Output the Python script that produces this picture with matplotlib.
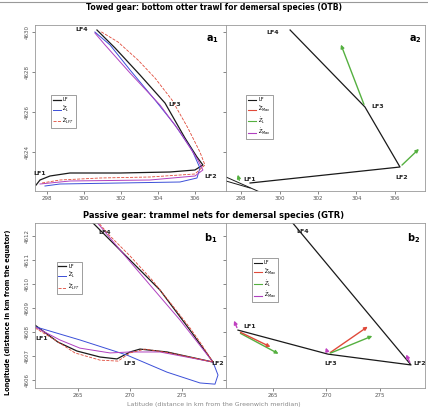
import numpy as np
import matplotlib
matplotlib.use('Agg')
import matplotlib.pyplot as plt

# ---- data ----
# row a : towed gear (OTB)
a1_black_x = [297.41, 297.62, 298.16, 299.24, 301.95, 304.65, 306.0, 306.43, 306.11, 305.46, 304.38, 303.03, 301.68, 300.70]
a1_black_y = [4622.35, 4622.6, 4622.8, 4622.95, 4622.95, 4623.0, 4623.1, 4623.35, 4623.75, 4624.7, 4626.45, 4627.85, 4629.2, 4630.1]
a1_red_x = [297.73, 298.70, 300.86, 303.57, 306.0, 306.54, 306.27, 305.62, 304.76, 303.84, 302.92, 301.84, 300.86]
a1_red_y = [4622.45, 4622.6, 4622.7, 4622.75, 4622.9, 4623.35, 4624.0, 4625.2, 4626.6, 4627.7, 4628.6, 4629.5, 4630.05]
a1_blue_x = [297.89, 298.70, 301.95, 305.19, 306.11, 306.27, 305.84, 304.92, 303.84, 302.49, 301.41, 300.59]
a1_blue_y = [4622.3, 4622.4, 4622.45, 4622.5, 4622.7, 4623.2, 4624.1, 4625.35, 4626.6, 4628.1, 4629.35, 4630.0]
a1_purple_x = [297.62, 299.24, 303.57, 306.0, 306.43, 306.16, 305.19, 304.11, 302.49, 301.14, 300.59]
a1_purple_y = [4622.4, 4622.55, 4622.6, 4622.8, 4623.1, 4623.6, 4625.0, 4626.35, 4627.95, 4629.35, 4629.95]
a1_lab_x = [297.62, 306.86, 304.92, 299.89]
a1_lab_y = [4622.9, 4622.75, 4626.4, 4630.1]

a2_lf_x = [298.47, 306.26, 304.44, 300.55]
a2_lf_y = [4622.45, 4623.25, 4626.25, 4630.10]
a2_extra_x = [[297.22, 299.09], [297.22, 298.47]]
a2_extra_y = [[4622.75, 4621.95], [4622.55, 4622.2]]
a2_green_from_x = [304.44, 306.26, 297.95]
a2_green_from_y = [4626.25, 4623.25, 4622.45]
a2_green_to_x = [303.14, 307.35, 297.79]
a2_green_to_y = [4629.5, 4624.25, 4623.0]
a2_lab_x = [298.47, 306.36, 305.12, 299.66]
a2_lab_y = [4622.6, 4622.7, 4626.25, 4629.95]

# row b : passive gear (GTR)
b1_black_x = [260.87, 263.08, 264.90, 267.12, 268.75, 270.0, 270.96, 273.56, 275.77, 277.98, 275.77, 272.88, 270.0, 267.60, 266.35, 265.96]
b1_black_y = [4608.29, 4607.58, 4607.21, 4606.96, 4606.88, 4607.17, 4607.29, 4607.17, 4606.96, 4606.75, 4608.08, 4609.75, 4611.0, 4612.04, 4612.58, 4612.88]
b1_red_x = [260.87, 262.79, 264.71, 267.12, 268.85, 270.0, 271.44, 273.85, 277.98, 276.92, 275.77, 274.04, 272.12, 270.0, 268.08, 266.92, 266.54]
b1_red_y = [4608.17, 4607.67, 4607.13, 4606.83, 4606.79, 4607.13, 4607.29, 4607.13, 4606.75, 4607.46, 4608.17, 4609.13, 4610.17, 4611.17, 4612.0, 4612.58, 4612.88]
b1_purple_x = [260.87, 263.27, 265.19, 268.08, 270.0, 272.88, 277.98, 274.81, 271.92, 269.04, 266.63, 265.96]
b1_purple_y = [4608.21, 4607.67, 4607.33, 4607.13, 4607.17, 4607.17, 4606.75, 4608.5, 4609.96, 4611.42, 4612.67, 4612.88]
b1_blue_x = [260.67, 265.19, 269.71, 273.56, 276.73, 278.17, 278.46, 277.98]
b1_blue_y = [4608.25, 4607.67, 4607.04, 4606.33, 4605.88, 4605.83, 4606.21, 4606.75]
b1_lab_x = [261.54, 278.46, 270.0, 267.6]
b1_lab_y = [4607.75, 4606.71, 4606.67, 4612.13]

b2_lf_x = [261.73, 270.14, 277.90, 266.21]
b2_lf_y = [4608.08, 4607.08, 4606.63, 4612.88]
b2_arr_from_x = [261.73, 261.73, 261.73, 270.14, 270.14, 270.14, 277.90]
b2_arr_from_y = [4608.0, 4608.04, 4608.08, 4607.08, 4607.08, 4607.08, 4606.63]
b2_arr_to_x = [265.75, 265.0, 261.26, 274.07, 274.53, 269.86, 277.34]
b2_arr_to_y = [4607.04, 4607.33, 4608.58, 4608.29, 4607.88, 4607.46, 4607.17]
b2_arr_col = ['#55b040', '#e04a3a', '#c040c0', '#e04a3a', '#55b040', '#c040c0', '#c040c0']
b2_lab_x = [262.85, 278.74, 270.42, 267.80]
b2_lab_y = [4608.21, 4606.67, 4606.67, 4612.17]

lf_names = ['LF1', 'LF2', 'LF3', 'LF4']
a_xticks = [298, 300, 302, 304, 306]
a_yticks = [4624, 4626, 4628, 4630]
b_xticks = [265, 270, 275]
b_yticks = [4606, 4607, 4608, 4609, 4610, 4611, 4612]

leg3 = ['LF', r'$\hat{Z}_{L}$', r'$\hat{Z}_{LFT}$']
leg4 = ['LF', r'$\hat{Z}_{Max}$', r'$\dot{Z}_{L}$', r'$\dot{Z}_{Max}$']

BLK, RED, BLUE, PURP, GRN = '#1a1a1a', '#e04a3a', '#3b4fd8', '#b040c0', '#55b040'

fig = plt.figure(figsize=(4.28, 4.07), dpi=100)
W, H = 428.0, 407.0

def mkax(l, t, r, b):
  return fig.add_axes([l/W, 1-b/H, (r-l)/W, (b-t)/H])

def style(ax, xt, yt, xl, yl, showy):
  ax.set_xlim(xl); ax.set_ylim(yl)
  ax.set_xticks(xt); ax.set_yticks(yt)
  ax.tick_params(labelsize=4, length=2, width=0.5, colors='#555555', pad=1.5)
  for lab in ax.get_yticklabels():
    lab.set_rotation(90); lab.set_va('center')
  if not showy: ax.set_yticklabels([])
  for s in ax.spines.values():
    s.set_color('#999999'); s.set_linewidth(0.6)

def labels(ax, xs, ys):
  for n, x, y in zip(lf_names, xs, ys):
    ax.text(x, y, n, fontsize=4.5, fontweight='bold', ha='center', va='center', color='#222222')

def arrows(ax, fx, fy, tx, ty, cols):
  for x0, y0, x1, y1, c in zip(fx, fy, tx, ty, cols):
    ax.annotate('', xy=(x1, y1), xytext=(x0, y0),
      arrowprops=dict(arrowstyle='-|>', color=c, lw=1.0, mutation_scale=5))

def leg(ax, handles, names, anchor):
  lg = ax.legend(handles, names, loc='upper left', bbox_to_anchor=anchor, fontsize=3.5,
    frameon=True, fancybox=False, edgecolor='#555555', handlelength=1.6,
    borderpad=0.4, labelspacing=0.25, handletextpad=0.4)
  lg.get_frame().set_linewidth(0.5)

a_xlim1, a_xlim2, a_ylim = (297.35, 307.68), (297.22, 307.56), (4622.05, 4630.35)
b_xlim1, b_xlim2, b_ylim = (260.87, 279.23), (260.61, 279.21), (4605.67, 4612.54)

# a1
ax = mkax(35, 25, 226, 191)
hb, = ax.plot(a1_black_x, a1_black_y, color=BLK, lw=0.9)
hbl, = ax.plot(a1_blue_x, a1_blue_y, color=BLUE, lw=0.7)
ax.plot(a1_purple_x, a1_purple_y, color=PURP, lw=0.7)
hr, = ax.plot(a1_red_x, a1_red_y, color=RED, lw=0.6, ls='--')
labels(ax, a1_lab_x, a1_lab_y)
style(ax, a_xticks, a_yticks, a_xlim1, a_ylim, True)
leg(ax, [hb, hbl, hr], leg3, (0.07, 0.59))
ax.text(0.93, 0.95, r'$\mathbf{a}_\mathbf{1}$', transform=ax.transAxes, fontsize=7, ha='center', va='top')

# a2
ax = mkax(226, 25, 425, 191)
ax.plot(a2_lf_x, a2_lf_y, color=BLK, lw=0.9)
for ex, ey in zip(a2_extra_x, a2_extra_y):
  ax.plot(ex, ey, color=BLK, lw=0.7)
arrows(ax, a2_green_from_x, a2_green_from_y, a2_green_to_x, a2_green_to_y, [GRN]*3)
labels(ax, a2_lab_x, a2_lab_y)
style(ax, a_xticks, a_yticks, a_xlim2, a_ylim, False)
h4 = [plt.Line2D([], [], color=c, lw=0.8) for c in [BLK, RED, GRN, PURP]]
leg(ax, h4, leg4, (0.09, 0.59))
ax.text(0.95, 0.95, r'$\mathbf{a}_\mathbf{2}$', transform=ax.transAxes, fontsize=7, ha='center', va='top')

# b1
ax = mkax(35, 223, 226, 388)
hb, = ax.plot(b1_black_x, b1_black_y, color=BLK, lw=0.9)
hbl, = ax.plot(b1_blue_x, b1_blue_y, color=BLUE, lw=0.7)
ax.plot(b1_purple_x, b1_purple_y, color=PURP, lw=0.7)
hr, = ax.plot(b1_red_x, b1_red_y, color=RED, lw=0.6, ls='--')
labels(ax, b1_lab_x, b1_lab_y)
style(ax, b_xticks, b_yticks, b_xlim1, b_ylim, True)
leg(ax, [hb, hbl, hr], leg3, (0.10, 0.78))
ax.text(0.92, 0.95, r'$\mathbf{b}_\mathbf{1}$', transform=ax.transAxes, fontsize=7, ha='center', va='top')

# b2
ax = mkax(226, 223, 425, 388)
ax.plot(b2_lf_x, b2_lf_y, color=BLK, lw=0.9)
arrows(ax, b2_arr_from_x, b2_arr_from_y, b2_arr_to_x, b2_arr_to_y, b2_arr_col)
labels(ax, b2_lab_x, b2_lab_y)
style(ax, b_xticks, b_yticks, b_xlim2, b_ylim, False)
leg(ax, h4, leg4, (0.12, 0.80))
ax.text(0.94, 0.95, r'$\mathbf{b}_\mathbf{2}$', transform=ax.transAxes, fontsize=7, ha='center', va='top')

fig.text(0.5, 1-8/H, 'Towed gear: bottom otter trawl for demersal species (OTB)',
  fontsize=5.5, fontweight='bold', ha='center', va='center')
fig.text(0.5, 1-215/H, 'Passive gear: trammel nets for demersal species (GTR)',
  fontsize=6, fontweight='bold', ha='center', va='center')
fig.text(8/W, 1-312/H, 'Longitude (distance in km from the equator)', rotation=90,
  fontsize=4.8, fontweight='bold', ha='center', va='center')
fig.text(0.5, 0.0, 'Latitude (distance in km from the Greenwich meridian)',
  fontsize=4.5, ha='center', va='bottom', color='#888888')
fig.add_artist(plt.Line2D([0, 1], [1-2/H, 1-2/H], color='#999999', lw=0.8))

fig.savefig('out.png', dpi=100)
